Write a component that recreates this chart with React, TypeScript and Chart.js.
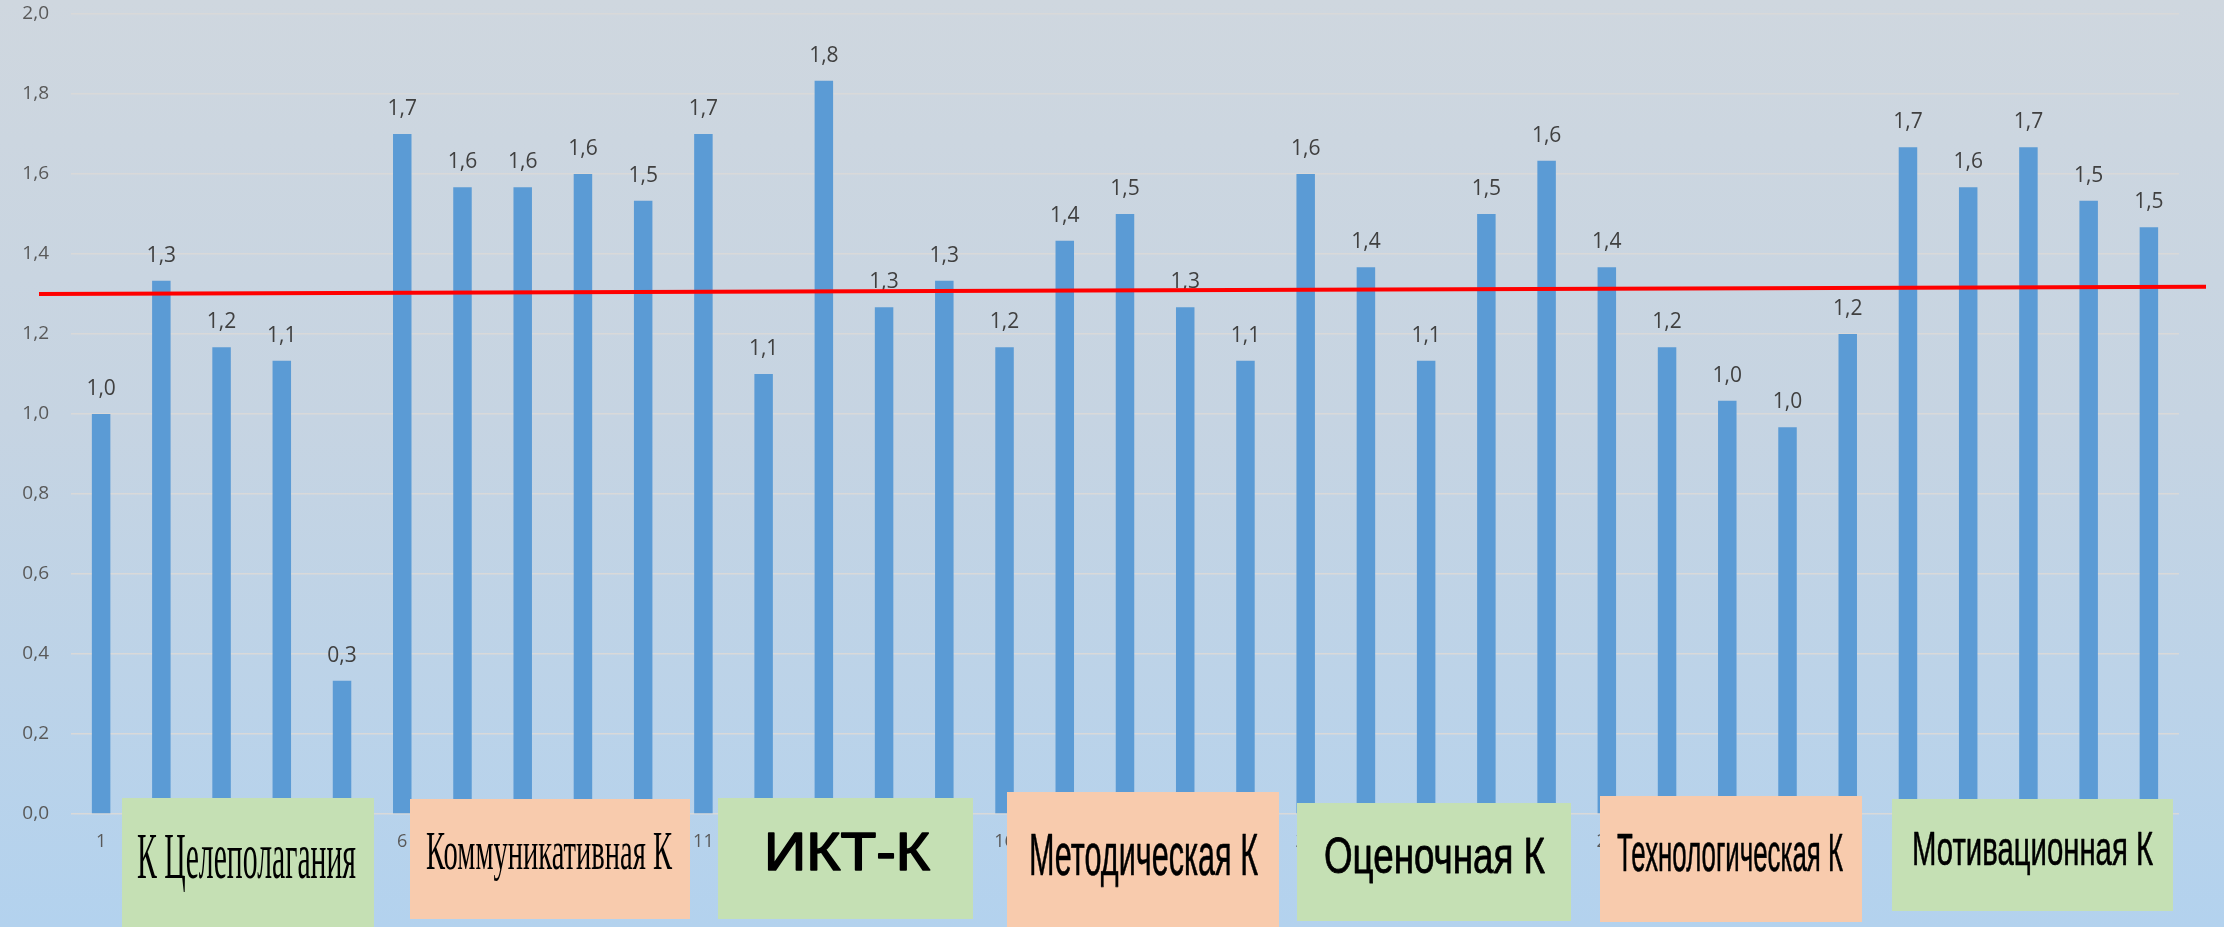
import React, { useEffect, useRef } from "react";
import { Chart, registerables } from "chart.js";

Chart.register(...registerables);

const W = 2224;
const H = 927;

const categories = [
  "1", "2", "3", "4", "5", "6", "7", "8", "9", "10",
  "11", "12", "13", "14", "15", "16", "17", "18", "19", "20",
  "21", "22", "23", "24", "25", "26", "27", "28", "29", "30",
  "31", "32", "33", "34", "35",
];

const values = [
  1.0, 1.333, 1.167, 1.133, 0.333,
  1.7, 1.567, 1.567, 1.6, 1.533,
  1.7, 1.1, 1.833, 1.267, 1.333,
  1.167, 1.433, 1.5, 1.267, 1.133,
  1.6, 1.367, 1.133, 1.5, 1.633,
  1.367, 1.167, 1.033, 0.967, 1.2,
  1.667, 1.567, 1.667, 1.533, 1.467,
];

// red reference line (slightly tilted in the original)
const thresholdStart = 1.3;
const thresholdEnd = 1.318;

const groupLabels = [
  "К Целеполагания",
  "Коммуникативная К",
  "ИКТ-К",
  "Методическая К",
  "Оценочная К",
  "Технологическая К",
  "Мотивационная К",
];

const GREEN = "#c5e0b4";
const PEACH = "#f8cbad";

// annotation box layout (pixels)
const BOX_LAYOUT = [
  { fill: GREEN, x0: 122, x1: 374, y0: 798, y1: 930, font: "'Liberation Serif', serif", size: 65, tx: 137, tw: 219, base: 878, stroke: 0 },
  { fill: PEACH, x0: 410, x1: 690, y0: 799, y1: 919, font: "'Liberation Serif', serif", size: 54, tx: 426, tw: 246, base: 869, stroke: 0 },
  { fill: GREEN, x0: 718, x1: 973, y0: 798, y1: 919, font: "'Liberation Sans', Arial, sans-serif", size: 53, tx: 764, tw: 166, base: 870, stroke: 1.6 },
  { fill: PEACH, x0: 1007, x1: 1279, y0: 792, y1: 930, font: "'Liberation Sans', Arial, sans-serif", size: 60, tx: 1029, tw: 229, base: 875, stroke: 0.6 },
  { fill: GREEN, x0: 1297, x1: 1571, y0: 803, y1: 921, font: "'Liberation Sans', Arial, sans-serif", size: 50, tx: 1324, tw: 221, base: 873, stroke: 0.8 },
  { fill: PEACH, x0: 1600, x1: 1862, y0: 796, y1: 922, font: "'Liberation Sans', Arial, sans-serif", size: 54, tx: 1617, tw: 226, base: 871, stroke: 0.6 },
  { fill: GREEN, x0: 1892, x1: 2173, y0: 799, y1: 911, font: "'Liberation Sans', Arial, sans-serif", size: 49, tx: 1912, tw: 241, base: 865, stroke: 0.6 },
];

const fmt = (v: number) => Number(v).toFixed(1).replace(".", ",");

const overlayPlugin = {
  id: "overlay",
  afterDatasetsDraw(chart: any) {
    const ctx = chart.ctx as CanvasRenderingContext2D;
    const area = chart.chartArea;
    const yScale = chart.scales.y;
    const meta = chart.getDatasetMeta(0);

    ctx.save();
    // value labels
    ctx.font = "21px 'Open Sans'";
    ctx.fillStyle = "#404040";
    ctx.textAlign = "center";
    ctx.textBaseline = "middle";
    meta.data.forEach((bar: any, i: number) => {
      ctx.fillText(fmt(values[i]), bar.x, bar.y - 25);
    });

    // red line
    ctx.strokeStyle = "#ff0000";
    ctx.lineWidth = 4;
    ctx.beginPath();
    ctx.moveTo(area.left - 32, yScale.getPixelForValue(thresholdStart));
    ctx.lineTo(area.right + 27, yScale.getPixelForValue(thresholdEnd));
    ctx.stroke();

    // group boxes
    BOX_LAYOUT.forEach((b, i) => {
      ctx.fillStyle = b.fill;
      ctx.fillRect(b.x0, b.y0, b.x1 - b.x0, b.y1 - b.y0);
      ctx.font = `${b.size}px ${b.font}`;
      ctx.textAlign = "left";
      ctx.textBaseline = "alphabetic";
      const text = groupLabels[i];
      const m = ctx.measureText(text).width;
      const sx = b.tw / m;
      ctx.save();
      ctx.translate(b.tx, b.base);
      ctx.scale(sx, 1);
      ctx.fillStyle = "#000000";
      ctx.fillText(text, 0, 0);
      if (b.stroke > 0) {
        ctx.strokeStyle = "#000000";
        ctx.lineWidth = b.stroke;
        ctx.lineJoin = "round";
        ctx.strokeText(text, 0, 0);
      }
      ctx.restore();
    });
    ctx.restore();
  },
};

export default function App() {
  const canvasRef = useRef<HTMLCanvasElement | null>(null);

  useEffect(() => {
    if (!canvasRef.current) return;
    Chart.defaults.font.family = "'Open Sans', sans-serif";
    const chart = new Chart(canvasRef.current, {
      type: "bar",
      data: {
        labels: categories,
        datasets: [
          {
            data: values,
            backgroundColor: "#5b9bd5",
            borderWidth: 0,
            categoryPercentage: 1,
            barPercentage: 0.307,
          },
        ],
      },
      options: {
        animation: false,
        responsive: false,
        devicePixelRatio: 1,
        layout: { padding: { top: 14, right: 45, bottom: 0, left: 0 } },
        plugins: {
          legend: { display: false },
          tooltip: { enabled: false },
          title: { display: false },
        },
        scales: {
          x: {
            grid: { display: false, drawTicks: false },
            border: { display: false },
            ticks: {
              autoSkip: false,
              maxRotation: 0,
              minRotation: 0,
              padding: 17,
              color: "#595959",
              font: { size: 18 },
              callback: (_v: any, i: number) => (i % 5 === 0 ? categories[i] : ""),
            },
            afterFit: (s: any) => {
              s.height = 113;
              s.paddingLeft = 0;
              s.paddingRight = 0;
            },
          },
          y: {
            min: 0,
            max: 2,
            ticks: {
              stepSize: 0.2,
              padding: 22,
              color: "#595959",
              font: { size: 19 },
              callback: (v: any) => fmt(v),
            },
            grid: { color: "#d9d9d9", lineWidth: 1.5, drawTicks: false },
            border: { display: false },
            afterFit: (s: any) => {
              s.width = 71;
              s.paddingTop = 0;
              s.paddingBottom = 0;
            },
          },
        },
      },
      plugins: [overlayPlugin],
    });
    return () => chart.destroy();
  }, []);

  return (
    <div
      style={{
        position: "absolute",
        left: 0,
        top: 0,
        width: W,
        height: H,
        overflow: "hidden",
        background: "linear-gradient(to bottom, #cfd7df 0%, #c6d4e2 45%, #b3d2ee 100%)",
      }}
    >
      <canvas ref={canvasRef} width={W} height={H} style={{ display: "block" }} />
    </div>
  );
}
